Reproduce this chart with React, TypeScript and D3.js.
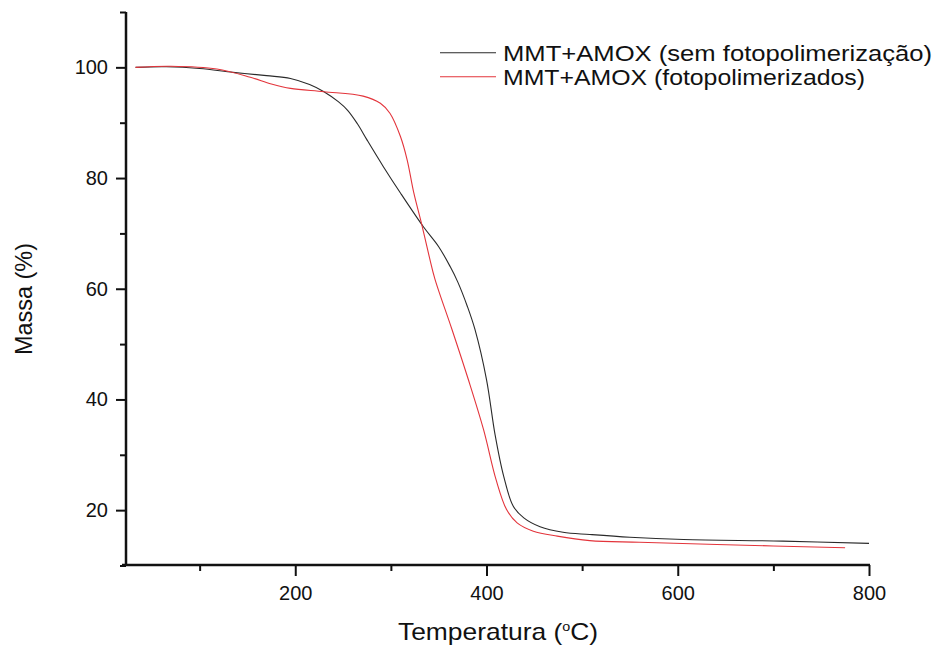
import React, { useEffect, useRef } from "react";
import * as d3 from "d3";

const semFotoT = [33, 65, 100, 135, 170, 195, 215, 230, 245, 255, 265, 275, 292, 310, 334, 350, 362, 370, 380, 388, 400, 409, 418, 428, 439, 456, 480, 508, 550, 606, 710, 800];
const semFotoM = [100.0, 100.1, 99.8, 99.1, 98.5, 98.0, 96.9, 95.6, 93.8, 92.2, 89.8, 86.9, 82.1, 77.3, 71.2, 67.6, 64.0, 61.2, 56.8, 52.6, 43.6, 33.6, 26.1, 20.7, 18.6, 17.0, 16.0, 15.6, 15.1, 14.7, 14.4, 14.0];

const fotoT = [33, 70, 118, 153, 175, 195, 230, 271, 289, 299, 310, 317, 324, 332, 340, 346, 364, 381, 397, 410, 421, 432, 449, 474, 508, 560, 641, 775];
const fotoM = [100.0, 100.2, 99.7, 98.2, 97.0, 96.2, 95.6, 94.8, 93.5, 91.7, 87.5, 83.3, 77.3, 71.8, 65.9, 61.8, 52.6, 43.6, 34.5, 25.5, 20.1, 17.7, 16.2, 15.3, 14.5, 14.2, 13.8, 13.2];

const xMajorTicks = [200, 400, 600, 800];
const xMinorTicks = [100, 300, 500, 700];
const yMajorTicks = [20, 40, 60, 80, 100];
const yMinorTicks = [10, 30, 50, 70, 90, 110];

const seriesNames = ["MMT+AMOX (sem fotopolimerização)", "MMT+AMOX (fotopolimerizados)"];
const seriesColors = ["#2a2a2a", "#e3343b"];

const FONT = "Arial, 'Liberation Sans', sans-serif";

export default function App() {
  const ref = useRef<SVGSVGElement | null>(null);

  useEffect(() => {
    const svg = d3.select(ref.current);
    svg.selectAll("*").remove();

    const x = d3.scaleLinear().domain([23, 800]).range([126, 869]);
    const y = d3.scaleLinear().domain([10, 110]).range([565.5, 12]);

    // minor ticks
    svg.append("g")
      .attr("transform", "translate(0,565)")
      .call(d3.axisBottom(x).tickValues(xMinorTicks).tickSize(6).tickSizeOuter(0).tickFormat(() => ""))
      .call(g => g.select(".domain").remove())
      .call(g => g.selectAll("line").attr("stroke", "#111").attr("stroke-width", 2));
    svg.append("g")
      .attr("transform", "translate(126,0)")
      .call(d3.axisLeft(y).tickValues(yMinorTicks).tickSize(6).tickSizeOuter(0).tickFormat(() => ""))
      .call(g => g.select(".domain").remove())
      .call(g => g.selectAll("line").attr("stroke", "#111").attr("stroke-width", 2));

    // major axes
    const gx = svg.append("g")
      .attr("transform", "translate(0,565)")
      .call(d3.axisBottom(x).tickValues(xMajorTicks).tickSize(11).tickPadding(10).tickSizeOuter(0));
    gx.select(".domain").remove();
    gx.selectAll("line").attr("stroke", "#111").attr("stroke-width", 2);
    gx.selectAll("text").attr("font-family", FONT).attr("font-size", 20).attr("fill", "#111");

    const gy = svg.append("g")
      .attr("transform", "translate(126,0)")
      .call(d3.axisLeft(y).tickValues(yMajorTicks).tickSize(10).tickPadding(8).tickSizeOuter(0));
    gy.select(".domain").remove();
    gy.selectAll("line").attr("stroke", "#111").attr("stroke-width", 2);
    gy.selectAll("text").attr("font-family", FONT).attr("font-size", 20).attr("fill", "#111");

    // axis lines
    svg.append("line").attr("x1", 126).attr("x2", 126).attr("y1", 12).attr("y2", 566)
      .attr("stroke", "#111").attr("stroke-width", 2.5);
    svg.append("line").attr("x1", 122).attr("x2", 870).attr("y1", 565).attr("y2", 565)
      .attr("stroke", "#111").attr("stroke-width", 2.5);

    // curves
    const line = d3.line<[number, number]>()
      .x(d => x(d[0]))
      .y(d => y(d[1]))
      .curve(d3.curveCatmullRom.alpha(0.5));

    const series: [number, number][][] = [
      semFotoT.map((t, i) => [t, semFotoM[i]] as [number, number]),
      fotoT.map((t, i) => [t, fotoM[i]] as [number, number]),
    ];
    series.forEach((s, i) => {
      svg.append("path")
        .attr("d", line(s) || "")
        .attr("fill", "none")
        .attr("stroke", seriesColors[i])
        .attr("stroke-width", 1.1);
    });

    // legend
    const legY = [52.7, 76.7];
    const legLen = [429, 362];
    seriesNames.forEach((name, i) => {
      svg.append("line")
        .attr("x1", 440).attr("x2", 496)
        .attr("y1", legY[i]).attr("y2", legY[i])
        .attr("stroke", seriesColors[i]).attr("stroke-width", 1.1);
      svg.append("text")
        .attr("x", 503).attr("y", legY[i] + 8)
        .attr("font-family", FONT).attr("font-size", 22).attr("fill", "#111")
        .attr("textLength", legLen[i]).attr("lengthAdjust", "spacingAndGlyphs")
        .text(name);
    });

    // axis titles
    const xt = svg.append("text")
      .attr("x", 398).attr("y", 640)
      .attr("font-family", FONT).attr("font-size", 24).attr("fill", "#111")
      .attr("textLength", 200).attr("lengthAdjust", "spacingAndGlyphs");
    xt.append("tspan").text("Temperatura (");
    xt.append("tspan").attr("font-size", 13).attr("dy", -9).text("o");
    xt.append("tspan").attr("dy", 9).text("C)");

    svg.append("text")
      .attr("transform", "translate(32,299) rotate(-90)")
      .attr("text-anchor", "middle")
      .attr("font-family", FONT).attr("font-size", 24).attr("fill", "#111")
      .attr("textLength", 112).attr("lengthAdjust", "spacingAndGlyphs")
      .text("Massa (%)");
  }, []);

  return (
    <svg
      ref={ref}
      width={951}
      height={648}
      style={{ position: "absolute", left: 0, top: 0, background: "#fff" }}
    />
  );
}
